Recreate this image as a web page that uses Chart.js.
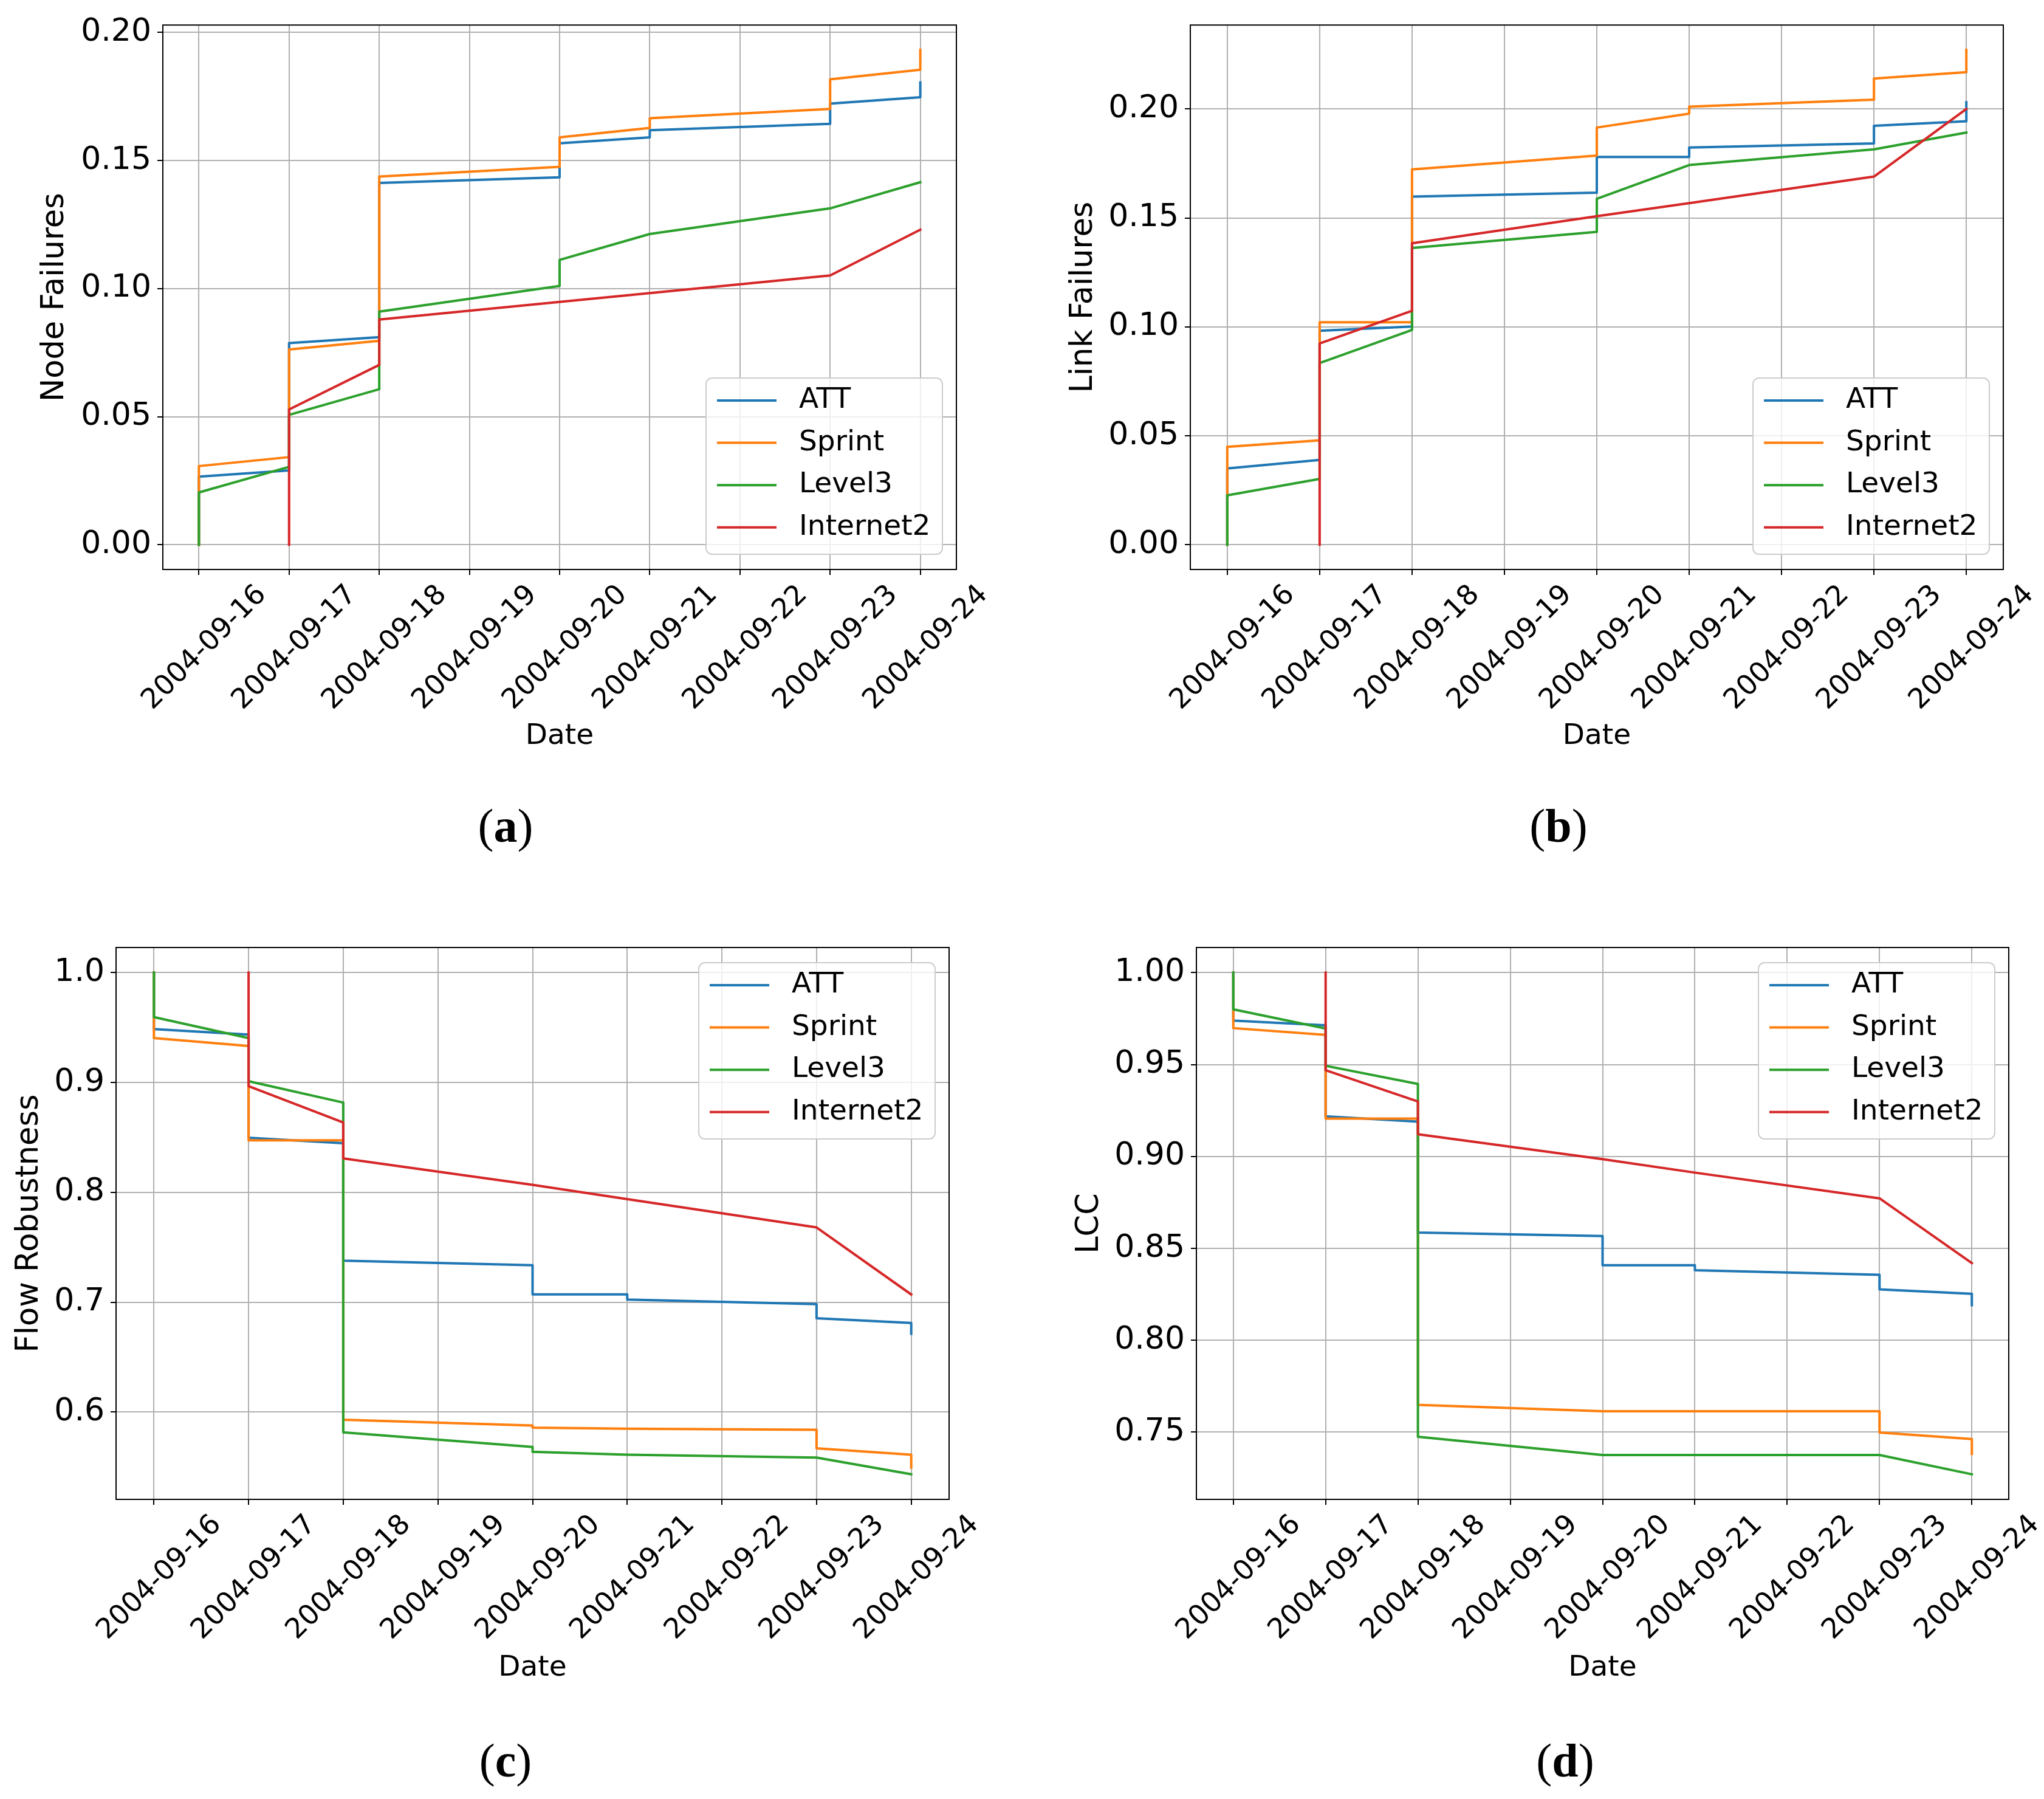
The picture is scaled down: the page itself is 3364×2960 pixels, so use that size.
<!DOCTYPE html>
<html lang="en">
<head>
<meta charset="UTF-8">
<title>Node / link failures, flow robustness and LCC, 2004-09-16 to 2004-09-24</title>
<script src="https://cdn.jsdelivr.net/npm/chart.js"></script>
<style>
  html, body { margin: 0; padding: 0; background: #fff; }
  #fig { position: relative; width: 3364px; height: 2960px; overflow: hidden; background: #fff; }
  #fig canvas { position: absolute; }
  .cap { position: absolute; font-family: "Liberation Serif", "DejaVu Serif", serif; font-size: 78px;
         transform: translate(-50%, -50%); white-space: nowrap; color: #000; }
</style>
</head>
<body>
<div id="fig">
  <canvas id="nodeChart"></canvas>
  <canvas id="linkChart"></canvas>
  <canvas id="flowChart"></canvas>
  <canvas id="lccChart"></canvas>
  <div class="cap" style="left:832px;top:1359px">(<b>a</b>)</div>
  <div class="cap" style="left:2565px;top:1359px">(<b>b</b>)</div>
  <div class="cap" style="left:832px;top:2897px">(<b>c</b>)</div>
  <div class="cap" style="left:2576px;top:2897px">(<b>d</b>)</div>
</div>

<script>
// x axis: one tick per day, x values below are day indexes into this list
const tickDates = ['2004-09-16', '2004-09-17', '2004-09-18', '2004-09-19', '2004-09-20',
                   '2004-09-21', '2004-09-22', '2004-09-23', '2004-09-24'];
const networks = ['ATT', 'Sprint', 'Level3', 'Internet2'];
const colors = ['#1f77b4', '#ff7f0e', '#2ca02c', '#d62728'];

const failureTicks = [0, 0.05, 0.10, 0.15, 0.20];
const flowTicks = [0.6, 0.7, 0.8, 0.9, 1.0];
const lccTicks = [0.75, 0.80, 0.85, 0.90, 0.95, 1.00];

// (a) node failures
const nodeAttX       = [0, 0, 1, 1, 2, 2, 4, 4, 5, 5, 7, 7, 8, 8];
const nodeAttY       = [0, 0.0266, 0.0290, 0.0787, 0.0810, 0.1412, 0.1434, 0.1567, 0.1590, 0.1618, 0.1643, 0.1722, 0.1747, 0.1804];
const nodeSprintX    = [0, 0, 1, 1, 2, 2, 4, 4, 5, 5, 7, 7, 8, 8];
const nodeSprintY    = [0, 0.0307, 0.0342, 0.0762, 0.0796, 0.1437, 0.1475, 0.1590, 0.1627, 0.1665, 0.1701, 0.1817, 0.1854, 0.1932];
const nodeLevel3X    = [0, 0, 1, 1, 2, 2, 4, 4, 5, 7, 8];
const nodeLevel3Y    = [0, 0.0204, 0.0304, 0.0507, 0.0607, 0.0910, 0.1010, 0.1112, 0.1213, 0.1313, 0.1415];
const nodeInternet2X = [1, 1, 2, 2, 4, 5, 7, 8];
const nodeInternet2Y = [0, 0.0528, 0.0702, 0.0879, 0.0948, 0.0982, 0.1051, 0.1230];

// (b) link failures
const linkAttX       = [0, 0, 1, 1, 2, 2, 4, 4, 5, 5, 7, 7, 8, 8];
const linkAttY       = [0, 0.0350, 0.0389, 0.0982, 0.1002, 0.1598, 0.1616, 0.1780, 0.1780, 0.1823, 0.1842, 0.1923, 0.1944, 0.2031];
const linkSprintX    = [0, 0, 1, 1, 2, 2, 4, 4, 5, 5, 7, 7, 8, 8];
const linkSprintY    = [0, 0.0449, 0.0479, 0.1021, 0.1021, 0.1723, 0.1786, 0.1915, 0.1979, 0.2011, 0.2043, 0.2140, 0.2169, 0.2272];
const linkLevel3X    = [0, 0, 1, 1, 2, 2, 4, 4, 5, 7, 8];
const linkLevel3Y    = [0, 0.0227, 0.0302, 0.0834, 0.0986, 0.1362, 0.1436, 0.1588, 0.1743, 0.1815, 0.1892];
const linkInternet2X = [1, 1, 2, 2, 4, 5, 7, 8];
const linkInternet2Y = [0, 0.0924, 0.1074, 0.1384, 0.1508, 0.1568, 0.1690, 0.2000];

// (c) flow robustness
const flowAttX       = [0, 0, 1, 1, 2, 2, 4, 4, 5, 5, 7, 7, 8, 8];
const flowAttY       = [1, 0.9485, 0.9436, 0.8496, 0.8447, 0.7378, 0.7336, 0.7070, 0.7070, 0.7024, 0.6982, 0.6853, 0.6810, 0.6713];
const flowSprintX    = [0, 0, 1, 1, 2, 2, 4, 4, 5, 7, 7, 8, 8];
const flowSprintY    = [1, 0.9404, 0.9332, 0.8473, 0.8473, 0.5929, 0.5877, 0.5857, 0.5848, 0.5838, 0.5669, 0.5611, 0.5494];
const flowLevel3X    = [0, 0, 1, 1, 2, 2, 4, 4, 5, 7, 8];
const flowLevel3Y    = [1, 0.9595, 0.9404, 0.9011, 0.8817, 0.5815, 0.5682, 0.5637, 0.5611, 0.5585, 0.5433];
const flowInternet2X = [1, 1, 2, 2, 4, 5, 7, 8];
const flowInternet2Y = [1, 0.8966, 0.8635, 0.8308, 0.8068, 0.7938, 0.7680, 0.7070];

// (d) largest connected component
const lccAttX        = [0, 0, 1, 1, 2, 2, 4, 4, 5, 5, 7, 7, 8, 8];
const lccAttY        = [1, 0.9739, 0.9713, 0.9218, 0.9189, 0.8586, 0.8567, 0.8408, 0.8408, 0.8381, 0.8356, 0.8277, 0.8253, 0.8191];
const lccSprintX     = [0, 0, 1, 1, 2, 2, 4, 7, 7, 8, 8];
const lccSprintY     = [1, 0.9698, 0.9661, 0.9206, 0.9206, 0.7649, 0.7614, 0.7614, 0.7498, 0.7463, 0.7382];
const lccLevel3X     = [0, 0, 1, 1, 2, 2, 4, 7, 8];
const lccLevel3Y     = [1, 0.9800, 0.9696, 0.9493, 0.9394, 0.7475, 0.7376, 0.7376, 0.7271];
const lccInternet2X  = [1, 1, 2, 2, 4, 5, 7, 8];
const lccInternet2Y  = [1, 0.9469, 0.9299, 0.9121, 0.8985, 0.8912, 0.8772, 0.8420];

// page layout, pixels: canvas box [left, top, width, height], plot area [left, top, right, bottom]
const panels = [
  { id: 'nodeChart', box: [0, 0, 1650, 1240], plot: [268, 33, 1574, 937], yLabel: 'Node Failures', yLabelX: 91,
    yTicks: failureTicks, decimals: 2, legend: 'lower right',
    xs: [nodeAttX, nodeSprintX, nodeLevel3X, nodeInternet2X], ys: [nodeAttY, nodeSprintY, nodeLevel3Y, nodeInternet2Y] },
  { id: 'linkChart', box: [1700, 0, 1664, 1240], plot: [1959, 27, 3297, 937], yLabel: 'Link Failures', yLabelX: 1784,
    yTicks: failureTicks, decimals: 2, legend: 'lower right',
    xs: [linkAttX, linkSprintX, linkLevel3X, linkInternet2X], ys: [linkAttY, linkSprintY, linkLevel3Y, linkInternet2Y] },
  { id: 'flowChart', box: [0, 1500, 1650, 1273], plot: [191, 1559, 1562, 2467], yLabel: 'Flow Robustness', yLabelX: 49,
    yTicks: flowTicks, decimals: 1, legend: 'upper right',
    xs: [flowAttX, flowSprintX, flowLevel3X, flowInternet2X], ys: [flowAttY, flowSprintY, flowLevel3Y, flowInternet2Y] },
  { id: 'lccChart', box: [1700, 1500, 1664, 1273], plot: [1969, 1559, 3306, 2467], yLabel: 'LCC', yLabelX: 1794,
    yTicks: lccTicks, decimals: 2, legend: 'upper right',
    xs: [lccAttX, lccSprintX, lccLevel3X, lccInternet2X], ys: [lccAttY, lccSprintY, lccLevel3Y, lccInternet2Y] }
];

const FONT = 'DejaVu Sans';
const GRID = '#b0b0b0';
const LINE_W = 4;

// matplotlib style legend box inside the axes
const boxLegend = {
  id: 'boxLegend',
  afterDatasetsDraw(chart, args, opts) {
    const { ctx, chartArea: a } = chart;
    const w = 389, h = 290, gap = 23;
    const left = a.right - gap - w;
    const top = opts.where === 'upper right' ? a.top + 25 : a.bottom - 25 - h;
    ctx.save();
    ctx.beginPath();
    ctx.roundRect(left, top, w, h, 10);
    ctx.fillStyle = 'rgba(255,255,255,0.8)';
    ctx.fill();
    ctx.strokeStyle = '#cccccc';
    ctx.lineWidth = 2;
    ctx.stroke();
    ctx.font = '47px "' + FONT + '"';
    ctx.textBaseline = 'middle';
    chart.data.datasets.forEach((ds, i) => {
      const y = top + 37 + i * 69.6;
      ctx.beginPath();
      ctx.moveTo(left + 18, y);
      ctx.lineTo(left + 116, y);
      ctx.strokeStyle = ds.borderColor;
      ctx.lineWidth = LINE_W;
      ctx.stroke();
      ctx.fillStyle = '#000';
      ctx.fillText(ds.label, left + 153, y);
    });
    ctx.restore();
  }
};

// black frame round the plot area
const frame = {
  id: 'frame',
  afterDraw(chart) {
    const { ctx, chartArea: a } = chart;
    ctx.save();
    ctx.strokeStyle = '#000';
    ctx.lineWidth = 2;
    ctx.strokeRect(a.left, a.top, a.right - a.left, a.bottom - a.top);
    ctx.restore();
  }
};

function paddedRange(ys) {
  const all = ys.flat();
  const lo = Math.min(...all), hi = Math.max(...all);
  const m = (hi - lo) * 0.05;
  return [lo - m, hi + m];
}

panels.forEach(p => {
  const [bl, bt, bw, bh] = p.box;
  const [pl, pt, pr, pb] = p.plot;
  const canvas = document.getElementById(p.id);
  canvas.width = bw;
  canvas.height = bh;
  canvas.style.left = bl + 'px';
  canvas.style.top = bt + 'px';
  canvas.style.width = bw + 'px';
  canvas.style.height = bh + 'px';

  const yAxisWidth = pl - bl;
  const xAxisHeight = bt + bh - pb;
  const [yMin, yMax] = paddedRange(p.ys);
  const yTitleSize = 51;

  const datasets = networks.map((name, i) => ({
    label: name,
    data: p.xs[i].map((x, k) => ({ x: x, y: p.ys[i][k] })),
    borderColor: colors[i],
    backgroundColor: colors[i],
    borderWidth: LINE_W,
    borderJoinStyle: 'round',
    borderCapStyle: 'square',
    pointRadius: 0,
    tension: 0,
    fill: false,
    order: networks.length - i
  }));

  new Chart(canvas, {
    type: 'line',
    data: { datasets: datasets },
    plugins: [boxLegend, frame],
    options: {
      responsive: false,
      animation: false,
      devicePixelRatio: 1,
      layout: { padding: { left: 0, top: pt - bt, right: bl + bw - pr, bottom: 0 } },
      plugins: {
        legend: { display: false },
        tooltip: { enabled: false },
        boxLegend: { where: p.legend }
      },
      scales: {
        x: {
          type: 'linear',
          min: -0.4,
          max: 8.4,
          afterBuildTicks: s => { s.ticks = tickDates.map((d, i) => ({ value: i })); },
          afterFit: s => { s.height = xAxisHeight; },
          ticks: {
            autoSkip: false, minRotation: 45, maxRotation: 45,
            labelOffset: 104, padding: 6, color: '#000',
            font: { family: FONT, size: 46 },
            callback: v => tickDates[v]
          },
          grid: { color: GRID, lineWidth: 2, tickColor: '#000', tickLength: 9, tickWidth: 2 },
          border: { display: false },
          title: { display: true, text: 'Date', color: '#000', padding: 0, font: { family: FONT, size: 47 } }
        },
        y: {
          type: 'linear',
          min: yMin,
          max: yMax,
          afterBuildTicks: s => { s.ticks = p.yTicks.map(v => ({ value: v })); },
          afterFit: s => { s.width = yAxisWidth; },
          ticks: {
            padding: 10, color: '#000',
            font: { family: FONT, size: 52 },
            callback: v => v.toFixed(p.decimals)
          },
          grid: { color: GRID, lineWidth: 2, tickColor: '#000', tickLength: 9, tickWidth: 2 },
          border: { display: false },
          title: {
            display: true, text: p.yLabel, color: '#000',
            padding: { top: p.yLabelX - bl - yTitleSize * 0.6 },
            font: { family: FONT, size: yTitleSize }
          }
        }
      }
    }
  });
});
</script>
</body>
</html>
